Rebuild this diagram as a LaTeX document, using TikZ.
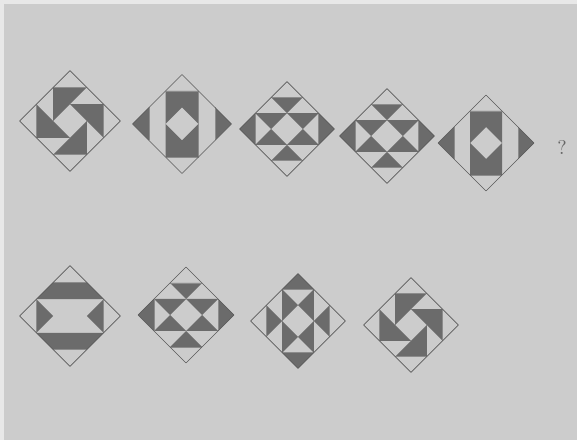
\documentclass[tikz,border=0pt]{standalone}
\usepackage{xcolor}

% outline of one tile: the diamond and the edges of the inner square
\newcommand{\tileplate}{%
  \draw[seam] (-1,2)--(1,2) (-1,-2)--(1,-2) (-2,1)--(-2,-1) (2,1)--(2,-1);
  \draw[rim] (0,3)--(3,0)--(0,-3)--(-3,0)--cycle;
}

\tikzset{
  dark/.style={fill=black!58, draw=none},
  rim/.style={draw=black!65, line width=0.5pt, line join=round},
  seam/.style={draw=black!45, line width=0.3pt},
  pinwheel/.pic={
    \fill[dark] (-1,2)--(1,2)--(-1,0)--cycle;
    \fill[dark] (2,1)--(2,-1)--(0,1)--cycle;
    \fill[dark] (1,-2)--(-1,-2)--(1,0)--cycle;
    \fill[dark] (-2,-1)--(-2,1)--(0,-1)--cycle;
    \tileplate
  },
  window/.pic={
    \fill[dark, even odd rule] (-1,-2) rectangle (1,2)
      (0,1)--(1,0)--(0,-1)--(-1,0)--cycle;
    \fill[dark] (-3,0)--(-2,1)--(-2,-1)--cycle;
    \fill[dark] (3,0)--(2,1)--(2,-1)--cycle;
    \tileplate
  },
  star/.pic={
    \fill[dark] (-1,2)--(1,2)--(0,1)--cycle;
    \fill[dark] (-1,-2)--(1,-2)--(0,-1)--cycle;
    \fill[dark] (-2,1)--(0,1)--(-1,0)--cycle;
    \fill[dark] (0,1)--(2,1)--(1,0)--cycle;
    \fill[dark] (-2,-1)--(0,-1)--(-1,0)--cycle;
    \fill[dark] (0,-1)--(2,-1)--(1,0)--cycle;
    \fill[dark] (-3,0)--(-2,1)--(-2,-1)--cycle;
    \fill[dark] (3,0)--(2,1)--(2,-1)--cycle;
    \tileplate
  },
  bands/.pic={
    \fill[dark] (-1,2)--(1,2)--(2,1)--(-2,1)--cycle;
    \fill[dark] (-1,-2)--(1,-2)--(2,-1)--(-2,-1)--cycle;
    \fill[dark] (-2,1)--(-2,-1)--(-1,0)--cycle;
    \fill[dark] (2,1)--(2,-1)--(1,0)--cycle;
    \tileplate
  }
}

\begin{document}
\begin{tikzpicture}[x=0.03cm, y=0.03cm]
% paper
\fill[black!20] (0,0) rectangle (577,440);
\fill[black!9] (0,436) rectangle (577,440);
\fill[black!9] (0,0) rectangle (4,440);
\useasboundingbox (0,0) rectangle (577,440);

% upper row
\pic[scale=16.8] at (70,319) {pinwheel};
\pic[scale=16.5] at (182,316) {window};
\pic[scale=15.8] at (287,311) {star};
\pic[scale=15.8] at (387,304) {star};
\pic[scale=16] at (486,297) {window};
\node[text=black!60, scale=1.7] (ask) at (562,293) {?};

% lower row
\pic[scale=16.8] at (70,124) {bands};
\pic[scale=16] at (186,125) {star};
\pic[scale=15.8, rotate=90] at (298,119) {star};
\pic[scale=15.8] at (411,115) {pinwheel};
\end{tikzpicture}
\end{document}
